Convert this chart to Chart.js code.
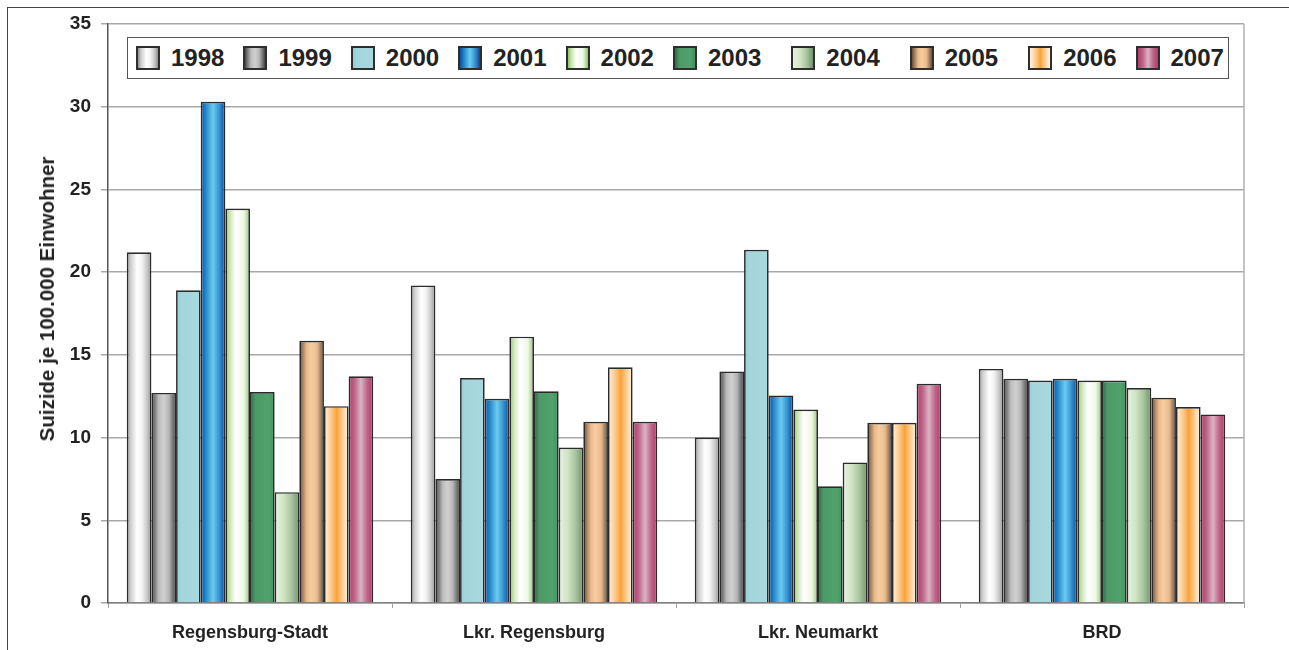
<!DOCTYPE html>
<html>
<head>
<meta charset="utf-8">
<script src="https://cdn.jsdelivr.net/npm/chart.js@4.4.1/dist/chart.umd.min.js"></script>
<style>
  html, body { margin: 0; padding: 0; background: #fff; }
  #wrap { position: relative; width: 1289px; height: 650px; overflow: hidden; background: #fff;
          font-family: "Liberation Sans", Arial, sans-serif; }
  #frame { position: absolute; left: 7px; top: 7px; right: -10px; bottom: -10px;
           border-left: 1.5px solid #444; border-top: 1.5px solid #444; }
  #c { position: absolute; left: 0; top: 0; }
  #legend { position: absolute; left: 127px; top: 37px; width: 1092px; height: 40px;
            border: 1.5px solid #555; background: #fff; display: flex; align-items: center;
            padding-left: 8px; box-sizing: content-box; }
  .item { display: flex; align-items: center; margin-right: 19px; }
  .item.wide { margin-left: 11px; }
  .sw { width: 20px; height: 20px; border: 2px solid #2e2e2e; margin-right: 11px; }
  .lt { font-weight: bold; font-size: 24px; color: #222; line-height: 24px; }
  #ytitle { position: absolute; left: 47px; top: 299px; transform: translate(-50%, -50%) rotate(-90deg);
            white-space: nowrap; font-weight: bold; font-size: 20.5px; color: #222; line-height: 22px; }
</style>
</head>
<body>
<div id="wrap">
  <div id="frame"></div>
  <canvas id="c" width="1289" height="650"></canvas>
  <div id="legend"></div>
  <div id="ytitle"></div>
</div>
<script>
// ---- data ----
const categories = ['Regensburg-Stadt', 'Lkr. Regensburg', 'Lkr. Neumarkt', 'BRD'];
const years = ['1998', '1999', '2000', '2001', '2002', '2003', '2004', '2005', '2006', '2007'];
const v1998 = [21.2, 19.2, 10.0, 14.15];
const v1999 = [12.7, 7.5, 14.0, 13.55];
const v2000 = [18.9, 13.6, 21.35, 13.45];
const v2001 = [30.3, 12.35, 12.55, 13.55];
const v2002 = [23.85, 16.1, 11.7, 13.45];
const v2003 = [12.75, 12.8, 7.05, 13.45];
const v2004 = [6.7, 9.4, 8.5, 13.0];
const v2005 = [15.85, 10.95, 10.9, 12.4];
const v2006 = [11.9, 14.25, 10.9, 11.85];
const v2007 = [13.7, 10.95, 13.25, 11.4];
const yTicks = [0, 5, 10, 15, 20, 25, 30, 35];
const yTitle = 'Suizide je 100.000 Einwohner';
const seriesValues = [v1998, v1999, v2000, v2001, v2002, v2003, v2004, v2005, v2006, v2007];

// ---- styles (gradient stops left -> right) ----
const gradients = [
  [[0, '#8e8e8e'], [0.15, '#cdcdcd'], [0.42, '#ffffff'], [0.62, '#f3f3f3'], [0.85, '#c2c2c2'], [1, '#8c8c8c']],
  [[0, '#474747'], [0.3, '#bdbdbd'], [0.5, '#d0d0d0'], [0.7, '#b8b8b8'], [1, '#454545']],
  [[0, '#96ccd6'], [0.2, '#a3d5dc'], [1, '#a8d8de']],
  [[0, '#0d4f9e'], [0.18, '#1c82c8'], [0.5, '#6ccbf0'], [0.8, '#2a88c9'], [1, '#1b3d8a']],
  [[0, '#8cc56a'], [0.18, '#cbe7b4'], [0.42, '#ffffff'], [0.75, '#eef7e7'], [1, '#8cc56a']],
  [[0, '#35664a'], [0.22, '#4c9a67'], [0.75, '#50a26c'], [1, '#468e5f']],
  [[0, '#e6f1df'], [0.35, '#d2e5c6'], [0.7, '#a6c29c'], [1, '#72916a']],
  [[0, '#6b5038'], [0.3, '#e8bb8e'], [0.5, '#f7cc9f'], [0.72, '#e8bb8e'], [1, '#6b5139']],
  [[0, '#fff3e6'], [0.3, '#fcc888'], [0.52, '#f9a23a'], [0.72, '#fcc888'], [1, '#fff5ea']],
  [[0, '#ad3d69'], [0.25, '#c06589'], [0.5, '#d9b5c4'], [0.75, '#c06589'], [1, '#ad3d69']]
];
const solids = ['#e0e0e0', '#a0a0a0', '#a3d5dc', '#3a9ad8', '#e4f2da', '#4c9a67', '#c0d8b4', '#d8a878', '#fbc480', '#c06589'];

function barFill(stops, solid) {
  return (ctx) => {
    const el = ctx.element;
    if (ctx.type !== 'data' || !el || typeof el.x !== 'number' || !el.width || isNaN(el.x)) return solid;
    const g = ctx.chart.ctx.createLinearGradient(el.x - el.width / 2, 0, el.x + el.width / 2, 0);
    stops.forEach(([o, c]) => g.addColorStop(o, c));
    return g;
  };
}

const datasets = years.map((y, i) => ({
  label: y,
  data: seriesValues[i],
  backgroundColor: barFill(gradients[i], solids[i]),
  borderColor: '#2b2b2b',
  borderWidth: 1.7,
  borderSkipped: 'bottom',
  categoryPercentage: 0.868,
  barPercentage: 1.0
}));

// HTML legend (real text)
const legend = document.getElementById('legend');
years.forEach((y, i) => {
  const it = document.createElement('div');
  it.className = 'item' + (i >= 6 && i <= 8 ? ' wide' : '');
  const sw = document.createElement('div');
  sw.className = 'sw';
  sw.style.background = 'linear-gradient(to right, ' + gradients[i].map(([o, c]) => c + ' ' + (o * 100) + '%').join(', ') + ')';
  const t = document.createElement('span');
  t.className = 'lt';
  t.textContent = y;
  it.appendChild(sw); it.appendChild(t);
  legend.appendChild(it);
});
document.getElementById('ytitle').textContent = yTitle;

const plotBorder = {
  id: 'plotBorder',
  afterDatasetsDraw(chart) {
    const { ctx, chartArea: a } = chart;
    ctx.save();
    ctx.strokeStyle = '#b0b0b0';
    ctx.lineWidth = 1.5;
    ctx.beginPath();
    ctx.moveTo(a.right, a.top);
    ctx.lineTo(a.right, a.bottom);
    ctx.stroke();
    ctx.restore();
  }
};

const font = "'Liberation Sans', Arial, sans-serif";
const chart = new Chart(document.getElementById('c'), {
  type: 'bar',
  data: { labels: categories, datasets },
  plugins: [plotBorder],
  options: {
    responsive: false,
    animation: false,
    devicePixelRatio: 1,
    layout: { padding: { left: 0, top: 24, right: 45, bottom: 0 } },
    plugins: { legend: { display: false }, tooltip: { enabled: false } },
    scales: {
      x: {
        grid: { offset: true, drawOnChartArea: false, drawTicks: true, tickLength: 5, color: '#a0a0a0', lineWidth: 1 },
        border: { color: '#808080', width: 1.5 },
        ticks: { font: { family: font, size: 18, weight: 'bold' }, color: '#222', padding: 14, maxRotation: 0 },
        afterFit(s) { s.height = 47; }
      },
      y: {
        min: 0, max: 35,
        afterBuildTicks(s) { s.ticks = yTicks.map(v => ({ value: v })); },
        grid: { color: '#a8a8a8', lineWidth: 1.5, tickLength: 7 },
        border: { color: '#555', width: 1.5 },
        ticks: { font: { family: font, size: 19, weight: 'bold' }, color: '#222', padding: 10 },
        title: { display: false, text: yTitle },
        afterFit(s) { s.width = 108; }
      }
    }
  }
});
chart.update('none');
</script>
</body>
</html>
